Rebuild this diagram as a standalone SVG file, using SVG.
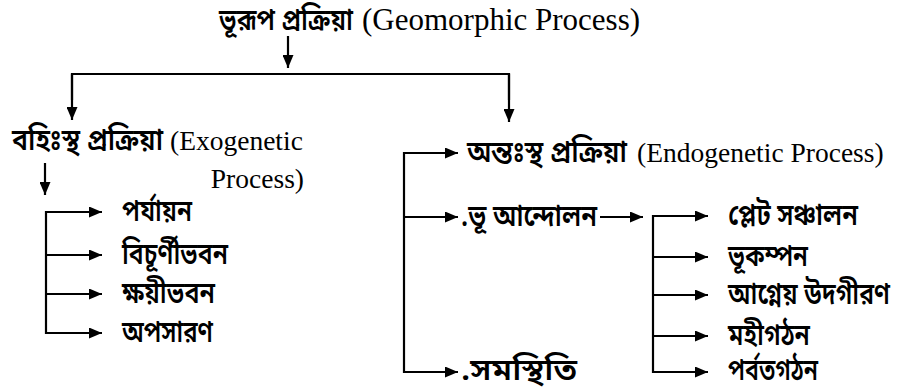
<svg xmlns="http://www.w3.org/2000/svg" width="898" height="387" viewBox="0 0 898 387">
<style>
.bn{font-family:"Noto Sans Bengali","Noto Serif Bengali","Lohit Bengali","Noto Sans","DejaVu Sans",sans-serif;font-size:30px;fill:#000;font-weight:600}
.en{font-family:"Liberation Serif","Times New Roman",serif;font-size:27.5px;fill:#000}
.ln{stroke:#000;stroke-width:2.2;fill:none}
</style>
<defs>
<marker id="ah" viewBox="0 0 13 11" refX="13" refY="5.5" markerWidth="13" markerHeight="11" markerUnits="userSpaceOnUse" orient="auto">
<path d="M0,0 L13,5.5 L0,11 z" fill="#000"/>
</marker>
</defs>
<rect width="898" height="387" fill="#fff"/>
<g id="connectors">
<line class="ln" x1="288" y1="36" x2="288" y2="68" marker-end="url(#ah)"/>
<polyline class="ln" points="72,100 72,74 509,74 509,100"/>
<line class="ln" x1="72" y1="74" x2="72" y2="120" marker-end="url(#ah)"/>
<line class="ln" x1="509" y1="74" x2="509" y2="122" marker-end="url(#ah)"/>
<line class="ln" x1="45" y1="163" x2="45" y2="195" marker-end="url(#ah)"/>
<line class="ln" x1="46" y1="211" x2="46" y2="334"/>
<line class="ln" x1="45" y1="212" x2="102" y2="212" marker-end="url(#ah)"/>
<line class="ln" x1="45" y1="255" x2="102" y2="255" marker-end="url(#ah)"/>
<line class="ln" x1="45" y1="294" x2="102" y2="294" marker-end="url(#ah)"/>
<line class="ln" x1="45" y1="333" x2="102" y2="333" marker-end="url(#ah)"/>
<line class="ln" x1="404" y1="152" x2="404" y2="373"/>
<line class="ln" x1="403" y1="153" x2="458" y2="153" marker-end="url(#ah)"/>
<line class="ln" x1="403" y1="217" x2="458" y2="217" marker-end="url(#ah)"/>
<line class="ln" x1="403" y1="372" x2="458" y2="372" marker-end="url(#ah)"/>
<line class="ln" x1="600" y1="217" x2="643" y2="217" marker-end="url(#ah)"/>
<line class="ln" x1="653" y1="215" x2="653" y2="373"/>
<line class="ln" x1="652" y1="216" x2="708" y2="216" marker-end="url(#ah)"/>
<line class="ln" x1="652" y1="257" x2="708" y2="257" marker-end="url(#ah)"/>
<line class="ln" x1="652" y1="295" x2="708" y2="295" marker-end="url(#ah)"/>
<line class="ln" x1="652" y1="336" x2="708" y2="336" marker-end="url(#ah)"/>
<line class="ln" x1="652" y1="372" x2="708" y2="372" marker-end="url(#ah)"/>
</g>
<g id="root">
<text class="bn" x="219" y="30" textLength="134" lengthAdjust="spacingAndGlyphs">ভূরূপ প্রক্রিয়া</text>
<text class="en" x="362" y="30" style="font-size:31px">(Geomorphic Process)</text>
</g>
<g id="exo">
<text class="bn" x="12" y="150" textLength="151" lengthAdjust="spacingAndGlyphs">বহিঃস্থ প্রক্রিয়া</text>
<text class="en" x="170" y="150">(Exogenetic</text>
<text class="en" x="304" y="188" text-anchor="end">Process)</text>
</g>
<g id="exo-1"><text class="bn" x="122" y="221" textLength="70" lengthAdjust="spacingAndGlyphs">পর্যায়ন</text></g>
<g id="exo-2"><text class="bn" x="122" y="264" textLength="106" lengthAdjust="spacingAndGlyphs">বিচূর্ণীভবন</text></g>
<g id="exo-3"><text class="bn" x="122" y="303" textLength="93" lengthAdjust="spacingAndGlyphs">ক্ষয়ীভবন</text></g>
<g id="exo-4"><text class="bn" x="122" y="342" textLength="91" lengthAdjust="spacingAndGlyphs">অপসারণ</text></g>
<g id="endo">
<text class="bn" x="467" y="162" textLength="160" lengthAdjust="spacingAndGlyphs">অন্তঃস্থ প্রক্রিয়া</text>
<text class="en" x="637" y="162">(Endogenetic Process)</text>
</g>
<g id="endo-1"><text class="bn" x="461" y="226" textLength="136" lengthAdjust="spacingAndGlyphs">.ভূ আন্দোলন</text></g>
<g id="endo-2"><text class="bn" x="461" y="380" textLength="116" lengthAdjust="spacingAndGlyphs">.সমস্থিতি</text></g>
<g id="sub-1"><text class="bn" x="728" y="225" textLength="130" lengthAdjust="spacingAndGlyphs">প্লেট সঞ্চালন</text></g>
<g id="sub-2"><text class="bn" x="728" y="266" textLength="80" lengthAdjust="spacingAndGlyphs">ভূকম্পন</text></g>
<g id="sub-3"><text class="bn" x="728" y="304" textLength="162" lengthAdjust="spacingAndGlyphs">আগ্নেয় উদগীরণ</text></g>
<g id="sub-4"><text class="bn" x="728" y="345" textLength="82" lengthAdjust="spacingAndGlyphs">মহীগঠন</text></g>
<g id="sub-5"><text class="bn" x="728" y="380" textLength="90" lengthAdjust="spacingAndGlyphs">পর্বতগঠন</text></g>
</svg>
